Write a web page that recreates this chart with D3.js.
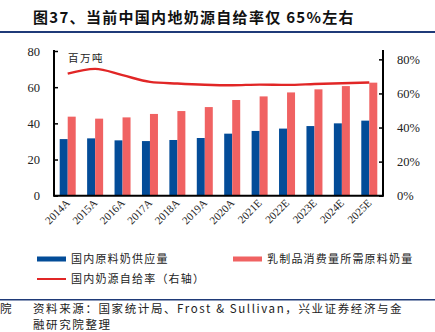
<!DOCTYPE html>
<html><head><meta charset="utf-8">
<script src="https://cdn.jsdelivr.net/npm/d3@7"></script>
<style>
html,body{margin:0;padding:0;background:#fff;}
svg{display:block;}
</style></head>
<body>
<svg id="c" width="435" height="332"></svg>
<script>
const categories = ["2014A","2015A","2016A","2017A","2018A","2019A","2020A","2021E","2022E","2023E","2024E","2025E"];
const supply = [31.3,31.7,30.6,30.2,30.8,31.9,34.3,35.8,37.1,38.5,40.0,41.5];
const demand = [43.7,42.6,43.3,45.2,46.8,49.0,52.9,54.9,57.1,58.8,60.6,62.5];
const ratio = [71.6,74.4,70.7,66.8,65.8,65.1,64.8,65.2,65.0,65.5,66.0,66.4];
const leftTicks = [0,20,40,60,80];
const rightTicks = [0,20,40,60,80];
const seriesNames = ["国内原料奶供应量","乳制品消费量所需原料奶量","国内奶源自给率（右轴）"];
const title = "图37、当前中国内地奶源自给率仅 65%左右";
const source1 = "资料来源：国家统计局、Frost & Sullivan，兴业证券经济与金";
const source2 = "融研究院整理";

const blue = "#034C98", pink = "#F06262", red = "#E12626";
const svg = d3.select("#c");
const serif = "'Liberation Serif','Times New Roman',serif";
const cjk = "'Noto Sans CJK SC','Noto Sans',sans-serif";

const x0 = 54, x1 = 383, yTop = 51, yBot = 195.7;
const x = d3.scaleBand().domain(categories).range([x0, x1]).paddingInner(0).paddingOuter(0);
const yL = d3.scaleLinear().domain([0,80]).range([yBot, yTop]);
const yR = d3.scaleLinear().domain([0,84.9]).range([yBot, yTop]);

// title
svg.append("text").attr("x",33).attr("y",23).attr("font-family",cjk).attr("font-weight","bold")
  .attr("font-size",15).attr("letter-spacing",1.3).attr("fill","#111").text(title);
svg.append("rect").attr("x",0).attr("y",31).attr("width",435).attr("height",2).attr("fill","#1F3A78");

const bw = 8;
const g = svg.append("g");
g.selectAll(".b").data(categories).join("rect")
  .attr("x", d => x(d) + x.bandwidth()/2 - bw)
  .attr("y", (d,i) => yL(supply[i])).attr("width", bw)
  .attr("height", (d,i) => yBot - yL(supply[i])).attr("fill", blue);
g.selectAll(".r").data(categories).join("rect")
  .attr("x", d => x(d) + x.bandwidth()/2)
  .attr("y", (d,i) => yL(demand[i])).attr("width", bw)
  .attr("height", (d,i) => yBot - yL(demand[i])).attr("fill", pink);

// line
const line = d3.line().x((d,i)=>x(categories[i])+x.bandwidth()/2).y(d=>yR(d)).curve(d3.curveMonotoneX);
g.append("path").datum(ratio).attr("d",line).attr("fill","none").attr("stroke",red).attr("stroke-width",2.4);

// axes
const axL = d3.axisLeft(yL).tickValues(leftTicks).tickSize(-4).tickPadding(14).tickFormat(d3.format("d"));
const gL = svg.append("g").attr("transform",`translate(${x0},0)`).call(axL);
const axR = d3.axisRight(yR).tickValues(rightTicks).tickSize(-4).tickPadding(14).tickFormat(d=>d+"%");
const gR = svg.append("g").attr("transform",`translate(${x1},0)`).call(axR);
[gL,gR].forEach(a=>{
  a.select(".domain").attr("d", null);
  a.selectAll(".tick line").attr("stroke","#000").attr("stroke-width",1.5);
  a.selectAll("text").attr("font-family",serif).attr("font-size",12.5).attr("fill","#222");
});
gL.selectAll(".tick text").attr("x",-14);
gR.selectAll(".tick text").attr("x",14);
svg.append("line").attr("x1",x0).attr("x2",x0).attr("y1",yTop-1).attr("y2",yBot+1).attr("stroke","#000").attr("stroke-width",2);
svg.append("line").attr("x1",x1).attr("x2",x1).attr("y1",yTop-1).attr("y2",yBot+1).attr("stroke","#000").attr("stroke-width",2);
svg.append("line").attr("x1",x0).attr("x2",x1).attr("y1",yBot).attr("y2",yBot).attr("stroke","#000").attr("stroke-width",2);

// x labels
svg.selectAll(".xl").data(categories).join("text")
  .attr("transform", d => `translate(${x(d)+x.bandwidth()/2+3},${yBot+8}) rotate(-45)`)
  .attr("text-anchor","end").attr("font-family",serif).attr("font-size",11).attr("fill","#222").text(d=>d);

// unit
svg.append("text").attr("x",68).attr("y",62).attr("font-family",cjk).attr("font-size",10.5).attr("letter-spacing",1.5).attr("fill","#222").text("百万吨");

// legend
const leg = [
  {x:37,y:259,c:blue,h:5,t:seriesNames[0]},
  {x:233,y:259,c:pink,h:5,t:seriesNames[1]},
  {x:37,y:279,c:red,h:2,t:seriesNames[2]}
];
leg.forEach(l=>{
  svg.append("rect").attr("x",l.x).attr("y",l.y-l.h/2).attr("width",29).attr("height",l.h).attr("fill",l.c);
  svg.append("text").attr("x",l.x+34).attr("y",l.y+4).attr("font-family",cjk).attr("font-size",11).attr("letter-spacing",1.2).attr("fill","#222").text(l.t);
});

// source
svg.append("rect").attr("x",0).attr("y",299).attr("width",435).attr("height",1.5).attr("fill","#1F3A78");
const st = {"font-family":cjk,"font-size":11.5,"letter-spacing":1.6,"fill":"#222"};
function src(xp,yp,t){const e=svg.append("text").attr("x",xp).attr("y",yp).text(t);Object.entries(st).forEach(([k,v])=>e.attr(k,v));}
src(0,313,"院");
src(33,313,source1);
src(33,329,source2);
</script>
</body></html>
